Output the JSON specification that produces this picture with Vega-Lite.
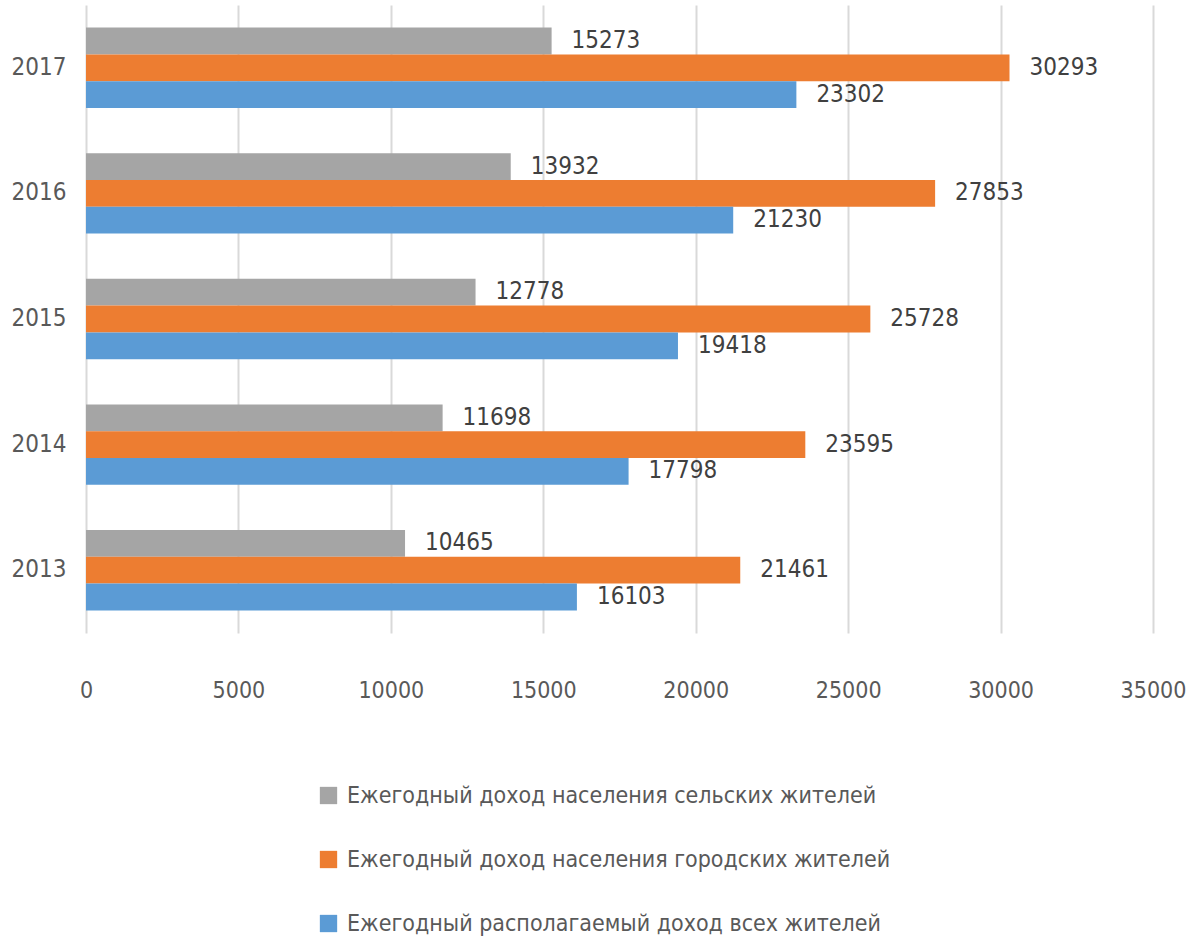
{
  "$schema": "https://vega.github.io/schema/vega-lite/v6.json",
  "width": 1067,
  "height": 628,
  "autosize": {"type": "none"},
  "padding": {"left": 86, "top": 5, "right": 37, "bottom": 314},
  "background": "white",
  "config": {"view": {"stroke": null}, "font": "DejaVu Sans Condensed, Liberation Sans, sans-serif"},
  "data": {
    "values": [
      {"year": "2017", "series": "Ежегодный доход населения сельских жителей", "value": 15273},
      {"year": "2017", "series": "Ежегодный доход населения городских жителей", "value": 30293},
      {"year": "2017", "series": "Ежегодный располагаемый доход всех жителей", "value": 23302},
      {"year": "2016", "series": "Ежегодный доход населения сельских жителей", "value": 13932},
      {"year": "2016", "series": "Ежегодный доход населения городских жителей", "value": 27853},
      {"year": "2016", "series": "Ежегодный располагаемый доход всех жителей", "value": 21230},
      {"year": "2015", "series": "Ежегодный доход населения сельских жителей", "value": 12778},
      {"year": "2015", "series": "Ежегодный доход населения городских жителей", "value": 25728},
      {"year": "2015", "series": "Ежегодный располагаемый доход всех жителей", "value": 19418},
      {"year": "2014", "series": "Ежегодный доход населения сельских жителей", "value": 11698},
      {"year": "2014", "series": "Ежегодный доход населения городских жителей", "value": 23595},
      {"year": "2014", "series": "Ежегодный располагаемый доход всех жителей", "value": 17798},
      {"year": "2013", "series": "Ежегодный доход населения сельских жителей", "value": 10465},
      {"year": "2013", "series": "Ежегодный доход населения городских жителей", "value": 21461},
      {"year": "2013", "series": "Ежегодный располагаемый доход всех жителей", "value": 16103}
    ]
  },
  "encoding": {
    "y": {
      "field": "year", "type": "nominal", "sort": "descending",
      "scale": {"paddingInner": 0.36, "paddingOuter": 0.18},
      "axis": {"title": null, "domain": false, "ticks": false, "grid": false, "labelFontSize": 24, "labelColor": "#595959", "labelPadding": 20}
    },
    "yOffset": {
      "field": "series", "type": "nominal",
      "sort": ["Ежегодный доход населения сельских жителей", "Ежегодный доход населения городских жителей", "Ежегодный располагаемый доход всех жителей"]
    },
    "x": {
      "field": "value", "type": "quantitative",
      "scale": {"domain": [0, 35000]},
      "axis": {"title": null, "values": [0, 5000, 10000, 15000, 20000, 25000, 30000, 35000], "format": "d", "domain": false, "ticks": false, "grid": true, "gridColor": "#D9D9D9", "gridWidth": 2, "labelFlush": false, "labelFontSize": 23, "labelColor": "#595959", "labelPadding": 46}
    }
  },
  "layer": [
    {
      "mark": {"type": "bar"},
      "encoding": {
        "color": {
          "field": "series", "type": "nominal",
          "scale": {
            "domain": ["Ежегодный доход населения сельских жителей", "Ежегодный доход населения городских жителей", "Ежегодный располагаемый доход всех жителей"],
            "range": ["#A5A5A5", "#ED7D31", "#5B9BD5"]
          },
          "legend": {"title": null, "orient": "none", "legendX": 231, "legendY": 779, "direction": "vertical", "symbolType": "square", "symbolSize": 300, "symbolStrokeWidth": 0, "labelFontSize": 23, "labelColor": "#595959", "labelLimit": 0, "labelOffset": 7, "rowPadding": 40}
        }
      }
    },
    {
      "mark": {"type": "text", "align": "left", "baseline": "middle", "dx": 20, "fontSize": 24, "color": "#404040"},
      "encoding": {"text": {"field": "value", "type": "quantitative", "format": "d"}}
    }
  ]
}
